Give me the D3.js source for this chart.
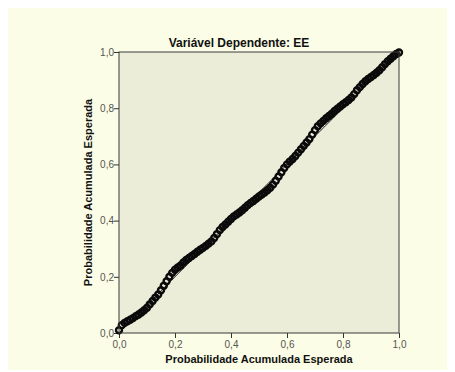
<!DOCTYPE html>
<html><head><meta charset="utf-8">
<script src="https://cdn.jsdelivr.net/npm/d3@7"></script>
<style>html,body{margin:0;padding:0;background:#fff;}svg{display:block;}</style>
</head><body>
<script>
const titleText = "Variável Dependente: EE";
const xLabel = "Probabilidade Acumulada Esperada";
const yLabel = "Probabilidade Acumulada Esperada";
const tickValues = [0, 0.2, 0.4, 0.6, 0.8, 1.0];
const tickLabels = ["0,0", "0,2", "0,4", "0,6", "0,8", "1,0"];
const xObs = [0.00,0.01,0.02,0.03,0.04,0.05,0.06,0.07,0.08,0.09,0.10,0.11,0.12,0.13,0.14,0.15,0.16,0.17,0.18,0.19,
0.20,0.21,0.22,0.23,0.24,0.25,0.26,0.27,0.28,0.29,0.30,0.31,0.32,0.33,0.34,0.35,0.36,0.37,0.38,0.39,
0.40,0.41,0.42,0.43,0.44,0.45,0.46,0.47,0.48,0.49,0.50,0.51,0.52,0.53,0.54,0.55,0.56,0.57,0.58,0.59,
0.60,0.61,0.62,0.63,0.64,0.65,0.66,0.67,0.68,0.69,0.70,0.71,0.72,0.73,0.74,0.75,0.76,0.77,0.78,0.79,
0.80,0.81,0.82,0.83,0.84,0.85,0.86,0.87,0.88,0.89,0.90,0.91,0.92,0.93,0.94,0.95,0.96,0.97,0.98,0.99,1.00];
const yExp = [0.010,0.028,0.036,0.042,0.047,0.053,0.060,0.066,0.073,0.081,0.090,0.102,0.114,0.126,0.137,0.152,0.168,0.184,0.200,0.214,
0.225,0.233,0.240,0.251,0.260,0.267,0.274,0.281,0.289,0.296,0.303,0.310,0.318,0.326,0.338,0.352,0.366,0.377,0.386,0.396,
0.406,0.415,0.422,0.429,0.437,0.446,0.455,0.463,0.470,0.478,0.486,0.493,0.500,0.508,0.517,0.528,0.542,0.557,0.572,0.587,
0.600,0.610,0.619,0.630,0.642,0.654,0.666,0.678,0.690,0.706,0.722,0.736,0.746,0.755,0.764,0.772,0.780,0.790,0.798,0.806,
0.814,0.821,0.829,0.838,0.850,0.864,0.875,0.886,0.896,0.904,0.911,0.918,0.926,0.935,0.946,0.957,0.967,0.976,0.985,0.993,0.998];

const W = 455, H = 372;
const svg = d3.select("body").append("svg").attr("width", W).attr("height", H);
svg.append("rect").attr("x", 8).attr("y", 8).attr("width", 439).attr("height", 362).attr("fill", "#fbfde6");

const L = 119, R = 399, T = 52, B = 333;
const x = d3.scaleLinear().domain([0, 1]).range([L, R]);
const y = d3.scaleLinear().domain([0, 1]).range([B, T]);

svg.append("rect").attr("x", L).attr("y", T).attr("width", R - L).attr("height", B - T)
  .attr("fill", "#ebedd8");

const fmt = d => tickLabels[tickValues.findIndex(v => Math.abs(v - d) < 1e-9)];
const xAxis = svg.append("g").attr("transform", `translate(0,${B})`)
  .call(d3.axisBottom(x).tickValues(tickValues).tickFormat(fmt).tickSize(5).tickSizeOuter(0));
const yAxis = svg.append("g").attr("transform", `translate(${L},0)`)
  .call(d3.axisLeft(y).tickValues(tickValues).tickFormat(fmt).tickSize(5).tickSizeOuter(0));
[xAxis, yAxis].forEach(g => {
  g.select(".domain").remove();
  g.selectAll("line").attr("stroke", "#333");
  g.selectAll("text").attr("fill", "#555").style("font-family", "Liberation Sans, Arial, sans-serif").style("font-size", "10px");
});
xAxis.selectAll("text").attr("y", 8).attr("dy", "0.71em");
yAxis.selectAll("text").attr("x", -5).attr("dx", "0");

// reference diagonal
svg.append("line").attr("x1", x(0)).attr("y1", y(0)).attr("x2", x(1)).attr("y2", y(1))
  .attr("stroke", "#333").attr("stroke-width", 1);

// observed points
const pts = xObs.map((v, i) => [v, yExp[i]]);
svg.append("g").selectAll("circle").data(pts).join("circle")
  .attr("cx", d => x(d[0])).attr("cy", d => y(d[1])).attr("r", 3)
  .attr("fill", "none").attr("stroke", "#0a0a0a").attr("stroke-width", 2.4);

// frame
svg.append("rect").attr("x", L).attr("y", T).attr("width", R - L).attr("height", B - T)
  .attr("fill", "none").attr("stroke", "#3a3a3a").attr("stroke-width", 1);

const font = "Liberation Sans, Arial, sans-serif";
svg.append("text").attr("x", 239).attr("y", 47).attr("text-anchor", "middle")
  .style("font-family", font).style("font-size", "12px").style("font-weight", "bold").attr("fill", "#111").text(titleText);
svg.append("text").attr("x", (L + R) / 2).attr("y", 363).attr("text-anchor", "middle")
  .style("font-family", font).style("font-size", "11px").style("font-weight", "bold").attr("fill", "#111").text(xLabel);
svg.append("text").attr("transform", `translate(92,${(T + B) / 2}) rotate(-90)`).attr("text-anchor", "middle")
  .style("font-family", font).style("font-size", "11px").style("font-weight", "bold").attr("fill", "#111").text(yLabel);
</script>
</body></html>
